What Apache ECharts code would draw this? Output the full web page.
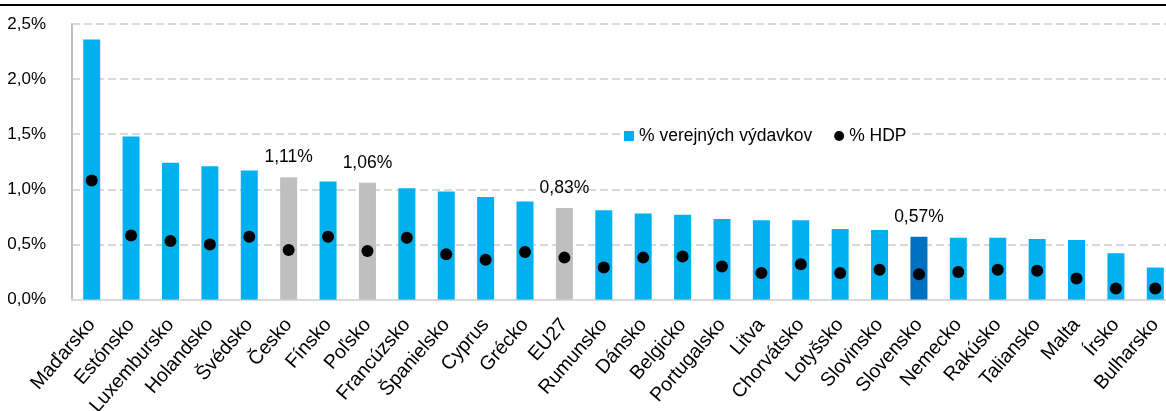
<!DOCTYPE html>
<html>
<head>
<meta charset="utf-8">
<script src="https://cdn.jsdelivr.net/npm/echarts@6/dist/echarts.min.js"></script>
<style>
  html, body { margin: 0; padding: 0; background: #fff; }
  #main { width: 1166px; height: 411px; }
</style>
</head>
<body>
<div id="main"></div>
<script>
// krajiny
var countries = ['Maďarsko', 'Estónsko', 'Luxembursko', 'Holandsko', 'Švédsko', 'Česko', 'Fínsko', 'Poľsko',
    'Francúzsko', 'Španielsko', 'Cyprus', 'Grécko', 'EU27', 'Rumunsko', 'Dánsko', 'Belgicko', 'Portugalsko',
    'Litva', 'Chorvátsko', 'Lotyšsko', 'Slovinsko', 'Slovensko', 'Nemecko', 'Rakúsko', 'Taliansko', 'Malta',
    'Írsko', 'Bulharsko'];
// % verejnych vydavkov
var spendShare = [2.36, 1.48, 1.24, 1.21, 1.17, 1.11, 1.07, 1.06, 1.01, 0.98, 0.93, 0.89, 0.83, 0.81, 0.78, 0.77,
    0.73, 0.72, 0.72, 0.64, 0.63, 0.57, 0.56, 0.56, 0.55, 0.54, 0.42, 0.29];
// % HDP
var gdpShare = [1.08, 0.58, 0.53, 0.50, 0.57, 0.45, 0.57, 0.44, 0.56, 0.41, 0.36, 0.43, 0.38, 0.29, 0.38, 0.39,
    0.30, 0.24, 0.32, 0.24, 0.27, 0.23, 0.25, 0.27, 0.26, 0.19, 0.10, 0.10];
var greyBars = ['Česko', 'Poľsko', 'EU27'];
var darkBars = ['Slovensko'];
var yTicks = [0, 0.5, 1.0, 1.5, 2.0, 2.5];

var FONT = "'Liberation Sans', Arial, sans-serif";

function pct(v, d) {
    return v.toFixed(d).replace('.', ',') + '%';
}

var barData = [];
for (var i = 0; i < countries.length; i++) {
    var c = countries[i];
    var item = { value: spendShare[i] };
    if (greyBars.indexOf(c) != -1) {
        item.itemStyle = { color: '#BFBFBF' };
        item.label = { show: true };
    } else if (darkBars.indexOf(c) != -1) {
        item.itemStyle = { color: '#0070C0' };
        item.label = { show: true };
    }
    barData.push(item);
}

var chart = echarts.init(document.getElementById('main'));
var option = {
    animation: false,
    graphic: [{
        type: 'line',
        shape: { x1: 0, y1: 5, x2: 1166, y2: 5 },
        style: { stroke: '#000', lineWidth: 2 }
    }],
    legend: {
        left: 620,
        top: 125,
        backgroundColor: '#fff',
        padding: [2, 4],
        itemWidth: 10,
        itemHeight: 10,
        itemGap: 22,
        textStyle: { fontFamily: FONT, fontSize: 17.5, color: '#000' },
        data: [
            { name: '% verejných výdavkov', icon: 'rect' },
            { name: '% HDP', icon: 'circle' }
        ]
    },
    grid: { left: 72, top: 24, width: 1103, height: 275.5, containLabel: false, outerBoundsMode: 'none' },
    xAxis: {
        type: 'category',
        data: countries,
        axisLine: { lineStyle: { color: '#D9D9D9', width: 2 } },
        axisTick: { show: false },
        axisLabel: {
            rotate: 49,
            interval: 0,
            margin: 22,
            color: '#000',
            fontFamily: FONT,
            fontSize: 19.5
        }
    },
    yAxis: {
        type: 'value',
        min: yTicks[0],
        max: yTicks[yTicks.length - 1],
        interval: 0.5,
        axisLine: { show: true, lineStyle: { color: '#BFBFBF', width: 2 } },
        axisTick: { show: false },
        splitLine: { lineStyle: { color: '#D9D9D9', width: 2, type: [8, 4] } },
        axisLabel: {
            margin: 26,
            color: '#000',
            fontFamily: FONT,
            fontSize: 17,
            formatter: function (v) { return pct(v, 1); }
        }
    },
    series: [{
        name: '% verejných výdavkov',
        type: 'bar',
        barWidth: 17,
        data: barData,
        itemStyle: { color: '#00B0F0' },
        label: {
            show: false,
            position: 'top',
            distance: 11,
            color: '#000',
            fontFamily: FONT,
            fontSize: 17.5,
            formatter: function (p) { return pct(p.value, 2); }
        }
    }, {
        name: '% HDP',
        type: 'scatter',
        symbol: 'circle',
        symbolSize: 12,
        data: gdpShare,
        itemStyle: { color: '#000', opacity: 1 },
        z: 5
    }]
};
chart.setOption(option);
</script>
</body>
</html>
